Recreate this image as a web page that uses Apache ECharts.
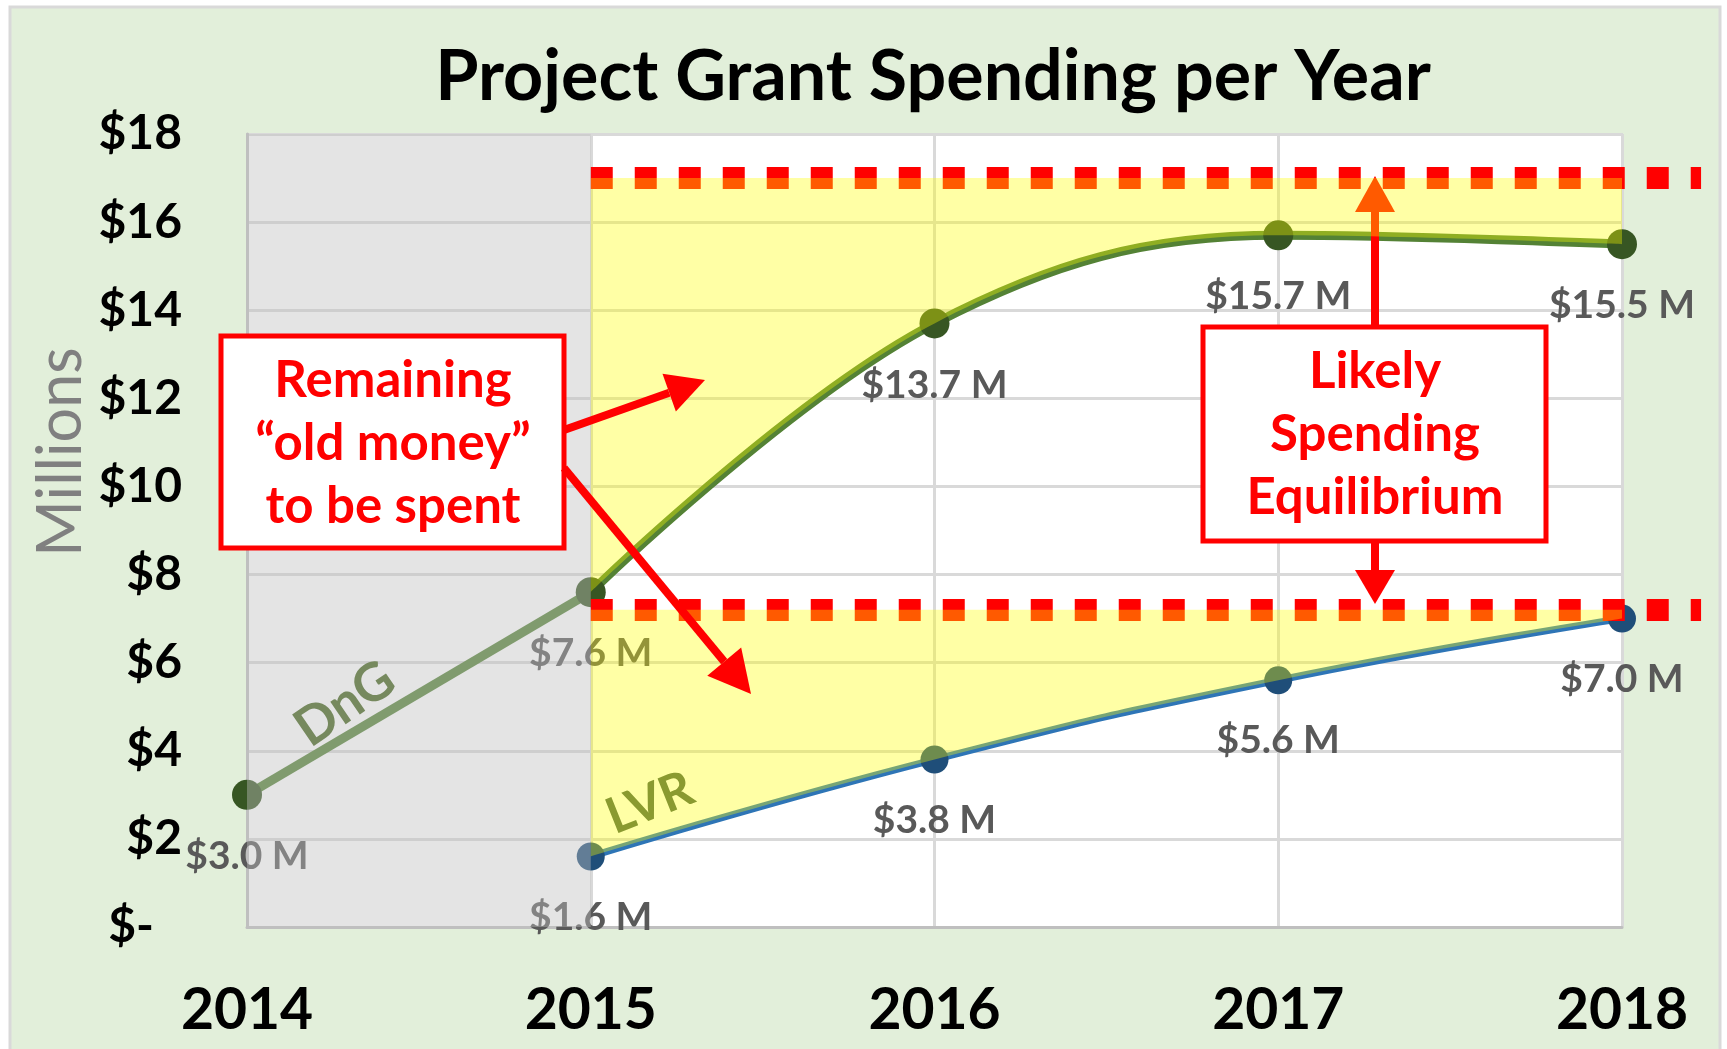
<!DOCTYPE html>
<html>
<head>
<meta charset="utf-8">
<title>Project Grant Spending per Year</title>
<script src="https://cdn.jsdelivr.net/npm/echarts@6/dist/echarts.min.js"></script>
<style>
  html, body { margin: 0; padding: 0; background: #fff; }
  #chart { width: 1727px; height: 1049px; }
</style>
</head>
<body>
<div id="chart"></div>
<script>
// values, millions of dollars
const years = [2014, 2015, 2016, 2017, 2018];
const dngValues = [3.0, 7.6, 13.7, 15.7, 15.5];
const lvrValues = [null, 1.6, 3.8, 5.6, 7.0];
// "likely spending equilibrium" levels (dashed red lines)
const upperLevel = 17.0;
const lowerLevel = 7.2;
const levelStart = 2015;
const levelEnd = 2018.23; // the dashes run a little past the plot

const FONT = "Lato, 'Open Sans', sans-serif";

function points(vals) {
  let out = [];
  vals.forEach(function(v, i) {
    if (v != null) out.push([years[i], v]);
  });
  return out;
}
const dngAll = points(dngValues);
const dngEarly = dngAll.slice(0, 2);
const dngLate = dngAll.slice(1);
const lvrLine = points(lvrValues);

const valueLabel = {
  show: true,
  position: "bottom",
  distance: 27,
  color: "#595959",
  fontFamily: FONT,
  fontWeight: "bold",
  fontSize: 39,
  formatter: function(p) {
    return "$" + p.value[1].toFixed(1) + " M";
  }
};

function arrow(x1, y1, x2, y2, headLen, headHalf, z) {
  let a = Math.atan2(y2 - y1, x2 - x1);
  let bx = x2 - headLen * Math.cos(a);
  let by = y2 - headLen * Math.sin(a);
  let nx = -Math.sin(a) * headHalf;
  let ny = Math.cos(a) * headHalf;
  return [
    { type: "line", z: z, silent: true,
      shape: { x1: x1, y1: y1, x2: bx, y2: by },
      style: { stroke: "#ff0000", lineWidth: 8 } },
    { type: "polygon", z: z, silent: true,
      shape: { points: [[x2, y2], [bx + nx, by + ny], [bx - nx, by - ny]] },
      style: { fill: "#ff0000" } }
  ];
}

function noteBox(x, y, w, h, text, cx, cy) {
  return [
    { type: "rect", z: 10, silent: true,
      shape: { x: x, y: y, width: w, height: h },
      style: { fill: "#ffffff", stroke: "#ff0000", lineWidth: 5 } },
    { type: "text", z: 11, silent: true, x: cx, y: cy,
      style: { text: text, fill: "#ff0000", fontFamily: FONT, fontWeight: "bold",
               fontSize: 51, lineHeight: 63, align: "center", verticalAlign: "middle" } }
  ];
}

let graphics = [
  { type: "rect", z: -1, silent: true,
    shape: { x: 10, y: 7, width: 1710, height: 1060 },
    style: { fill: "#e2efda", stroke: "#d9d9d9", lineWidth: 3 } },
  { type: "text", z: 1, silent: true, x: 61, y: 452, rotation: Math.PI / 2,
    style: { text: "Millions", fill: "#808080", fontFamily: FONT, fontSize: 61,
             align: "center", verticalAlign: "middle" } },
  { type: "text", z: 6, silent: true, x: 345, y: 704, rotation: 0.6,
    style: { text: "DnG", fill: "#76895e", fontFamily: FONT, fontWeight: "bold", fontSize: 53,
             align: "center", verticalAlign: "middle" } },
  { type: "text", z: 10, silent: true, x: 650, y: 803, rotation: 0.38,
    style: { text: "LVR", fill: "#8a9a30", fontFamily: FONT, fontWeight: "bold", fontSize: 50,
             align: "center", verticalAlign: "middle" } }
];
graphics = graphics
  .concat(noteBox(221, 336, 343, 212, "Remaining\n\u201Cold money\u201D\nto be spent", 393, 444))
  .concat(noteBox(1203, 327, 343, 214, "Likely\nSpending\nEquilibrium", 1375, 435))
  .concat(arrow(564, 430, 705, 380, 38, 20, 10))
  .concat(arrow(564, 468, 751, 694, 42, 22, 10))
  .concat(arrow(1375, 327, 1375, 176, 36, 20, 3))
  .concat(arrow(1375, 541, 1375, 604, 34, 20, 10));

const dashStyle = { color: "#ff0000", width: 22, type: [22, 22], cap: "butt" };

let chart = echarts.init(document.getElementById("chart"));
let option = {
  backgroundColor: "#ffffff",
  animation: false,
  title: {
    text: "Project Grant Spending per Year",
    left: 928,
    top: 37,
    textAlign: "center",
    textStyle: { fontFamily: FONT, fontWeight: "bold", fontSize: 70, color: "#000" }
  },
  grid: {
    left: 247,
    right: 105,
    top: 134,
    bottom: 122,
    show: true,
    backgroundColor: "#ffffff",
    borderColor: "#d9d9d9",
    borderWidth: 2
  },
  xAxis: {
    type: "value",
    min: 2014,
    max: 2018,
    interval: 1,
    axisLine: { show: true, lineStyle: { color: "#bfbfbf", width: 3 } },
    axisTick: { show: false },
    splitLine: { show: true, lineStyle: { color: "#d9d9d9", width: 3 } },
    axisLabel: {
      margin: 55,
      color: "#000",
      fontFamily: FONT,
      fontWeight: "bold",
      fontSize: 57,
      formatter: function(v) { return String(v); }
    }
  },
  yAxis: {
    type: "value",
    min: 0,
    max: 18,
    interval: 2,
    axisLine: { show: true, lineStyle: { color: "#bfbfbf", width: 3 } },
    axisTick: { show: false },
    splitLine: { show: true, lineStyle: { color: "#d9d9d9", width: 3 } },
    axisLabel: {
      margin: 65,
      color: "#000",
      fontFamily: FONT,
      fontWeight: "bold",
      fontSize: 48,
      formatter: function(v) { return v === 0 ? "{z|$-}" : "$" + v; },
      rich: {
        z: { color: "#000", fontFamily: FONT, fontWeight: "bold", fontSize: 48, padding: [0, 28, 0, 0] }
      }
    }
  },
  graphic: graphics,
  series: [
    {
      name: "DnG",
      type: "line",
      z: 2,
      data: [
        { value: dngEarly[0] },
        { value: dngEarly[1], symbol: "none", label: { show: false } }
      ],
      symbol: "circle",
      symbolSize: 30,
      lineStyle: { color: "#548235", width: 9 },
      itemStyle: { color: "#375623" },
      label: valueLabel,
      markArea: {
        silent: true,
        z: 5,
        itemStyle: { color: "rgba(190,190,190,0.42)" },
        data: [[{ coord: [2014, 0] }, { coord: [2015, 18] }]]
      }
    },
    {
      name: "DnG",
      type: "line",
      z: 2,
      smooth: 0.38,
      data: dngLate,
      symbol: "circle",
      symbolSize: 30,
      lineStyle: { color: "#548235", width: 9 },
      itemStyle: { color: "#375623" },
      label: valueLabel
    },
    {
      name: "LVR",
      type: "line",
      z: 2,
      smooth: true,
      data: lvrLine,
      symbol: "circle",
      symbolSize: 28,
      lineStyle: { color: "#2e75b6", width: 7 },
      itemStyle: { color: "#1f4e79" },
      label: valueLabel
    },
    {
      id: "upperLevel",
      name: "Upper equilibrium",
      type: "line",
      z: 3,
      silent: true,
      data: []
    },
    {
      id: "lowerLevel",
      name: "Lower equilibrium",
      type: "line",
      z: 3,
      silent: true,
      data: []
    },
    {
      name: "Old money DnG",
      type: "line",
      z: 4,
      silent: true,
      smooth: 0.38,
      showSymbol: false,
      data: dngLate,
      lineStyle: { opacity: 0 },
      areaStyle: { color: "rgba(255,255,0,0.5)", origin: upperLevel }
    },
    {
      name: "Old money LVR",
      type: "line",
      z: 4,
      silent: true,
      smooth: true,
      showSymbol: false,
      data: lvrLine,
      lineStyle: { opacity: 0 },
      areaStyle: { color: "rgba(255,255,0,0.5)", origin: lowerLevel }
    }
  ]
};
chart.setOption(option);

// the dashed levels run past the right edge of the plot, so place them in pixels
function levelLine(level) {
  let a = chart.convertToPixel({ gridIndex: 0 }, [levelStart, level]);
  let b = chart.convertToPixel({ gridIndex: 0 }, [levelEnd, level]);
  return {
    silent: true,
    z: 3,
    symbol: ["none", "none"],
    label: { show: false },
    lineStyle: dashStyle,
    data: [[{ x: a[0], y: a[1] }, { x: b[0], y: b[1] }]]
  };
}
chart.setOption({
  series: [
    { id: "upperLevel", markLine: levelLine(upperLevel) },
    { id: "lowerLevel", markLine: levelLine(lowerLevel) }
  ]
});
</script>
</body>
</html>
